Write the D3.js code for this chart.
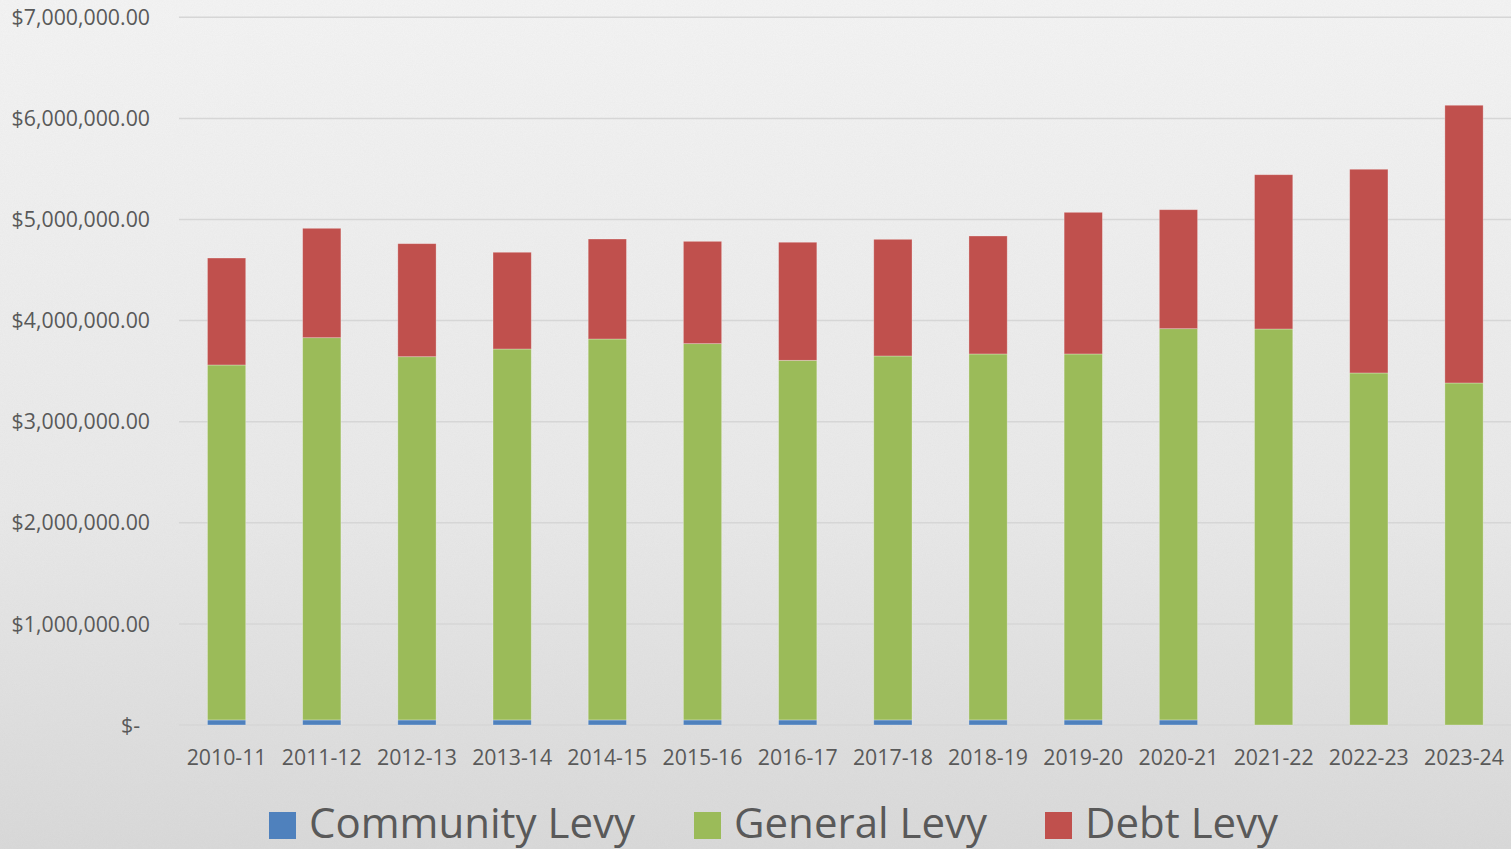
<!DOCTYPE html>
<html>
<head>
<meta charset="utf-8">
<script src="https://cdn.jsdelivr.net/npm/d3@7"></script>
<style>
  html, body { margin: 0; padding: 0; overflow: hidden; background: #e8e8e8; }
  svg { display: block; }
</style>
</head>
<body>
<svg id="chart" width="1511" height="849"></svg>
<script>
const categories = ["2010-11","2011-12","2012-13","2013-14","2014-15","2015-16","2016-17","2017-18","2018-19","2019-20","2020-21","2021-22","2022-23","2023-24"];
const communityLevy = [50000,50000,50000,50000,50000,50000,50000,50000,50000,50000,50000,0,0,0];
const generalLevy = [3511000,3781000,3593000,3669000,3768000,3722000,3557000,3600000,3620000,3620000,3870000,3917000,3482000,3383000];
const debtLevy = [1058000,1082000,1118000,957000,989000,1012000,1168000,1154000,1167000,1401000,1177000,1526000,2015000,2747000];
const seriesNames = ["Community Levy","General Levy","Debt Levy"];
const seriesColors = ["#4F81BD","#9BBB59","#C0504D"];
const yTicks = [0,1000000,2000000,3000000,4000000,5000000,6000000,7000000];

const W = 1511, H = 849;
const svg = d3.select("#chart");
const defs = svg.append("defs");

const grad = defs.append("linearGradient").attr("id","bg").attr("x1",0).attr("y1",0).attr("x2",0).attr("y2",1);
grad.append("stop").attr("offset","0%").attr("stop-color","#f4f4f4");
grad.append("stop").attr("offset","60%").attr("stop-color","#e9e9e9");
grad.append("stop").attr("offset","100%").attr("stop-color","#d9d9d9");

const noise = defs.append("filter").attr("id","noise").attr("x",0).attr("y",0).attr("width","100%").attr("height","100%");
noise.append("feTurbulence").attr("type","fractalNoise").attr("baseFrequency",0.9).attr("numOctaves",2).attr("seed",3).attr("result","t");
noise.append("feColorMatrix").attr("type","matrix")
  .attr("values","0 0 0 0 0.5  0 0 0 0 0.5  0 0 0 0 0.5  0 0 0 0.18 0");

svg.append("rect").attr("width",W).attr("height",H).attr("fill","url(#bg)");
svg.append("rect").attr("width",W).attr("height",H).attr("filter","url(#noise)").attr("opacity",0.6);

const x = d3.scaleBand().domain(categories).range([179, 1511.6]).paddingInner(0.598).paddingOuter(0.299);
const y = d3.scaleLinear().domain([0, 7000000]).range([725, 17.3]);

// gridlines
svg.append("g").selectAll("line").data(yTicks).join("line")
  .attr("x1",179).attr("x2",W)
  .attr("y1",d=>y(d)).attr("y2",d=>y(d))
  .attr("stroke","#d6d6d6").attr("stroke-width",1.5);

// y labels
const fmt = d => d === 0 ? "$-" : "$" + d3.format(",.2f")(d);
svg.append("g").selectAll("text").data(yTicks).join("text")
  .attr("x", d => d === 0 ? 140 : 150)
  .attr("y", d => y(d))
  .attr("dy","0.36em")
  .attr("text-anchor","end")
  .attr("font-family","'Open Sans', sans-serif")
  .attr("font-size",21.3)
  .attr("fill","#595959")
  .text(fmt);

// stacked data
const rows = categories.map((c,i) => ({cat:c, "Community Levy":communityLevy[i], "General Levy":generalLevy[i], "Debt Levy":debtLevy[i]}));
const stack = d3.stack().keys(seriesNames)(rows);

svg.append("g").selectAll("g").data(stack).join("g")
  .attr("fill",(d,i)=>seriesColors[i])
  .selectAll("rect").data(d=>d.filter(p=>p[1]-p[0]>0)).join("rect")
  .attr("x",d=>x(d.data.cat))
  .attr("width",x.bandwidth())
  .attr("y",d=>y(d[1]))
  .attr("height",d=>y(d[0])-y(d[1]))
  .attr("stroke","rgba(255,255,255,0.35)")
  .attr("stroke-width",0.8);

// x labels
svg.append("g").selectAll("text").data(categories).join("text")
  .attr("x",d=>x(d)+x.bandwidth()/2)
  .attr("y",765)
  .attr("text-anchor","middle")
  .attr("font-family","'Open Sans', sans-serif")
  .attr("font-size",21.3)
  .attr("fill","#595959")
  .text(d=>d);

// legend
const legendX = [269, 694, 1045];
const lg = svg.append("g").selectAll("g").data(seriesNames).join("g")
  .attr("transform",(d,i)=>`translate(${legendX[i]},0)`);
lg.append("rect").attr("x",0).attr("y",812).attr("width",27).attr("height",27)
  .attr("fill",(d,i)=>seriesColors[i]);
lg.append("text").attr("x",40).attr("y",838)
  .attr("font-family","'Open Sans', sans-serif")
  .attr("font-size",42)
  .attr("fill","#595959")
  .text(d=>d);
</script>
</body>
</html>
